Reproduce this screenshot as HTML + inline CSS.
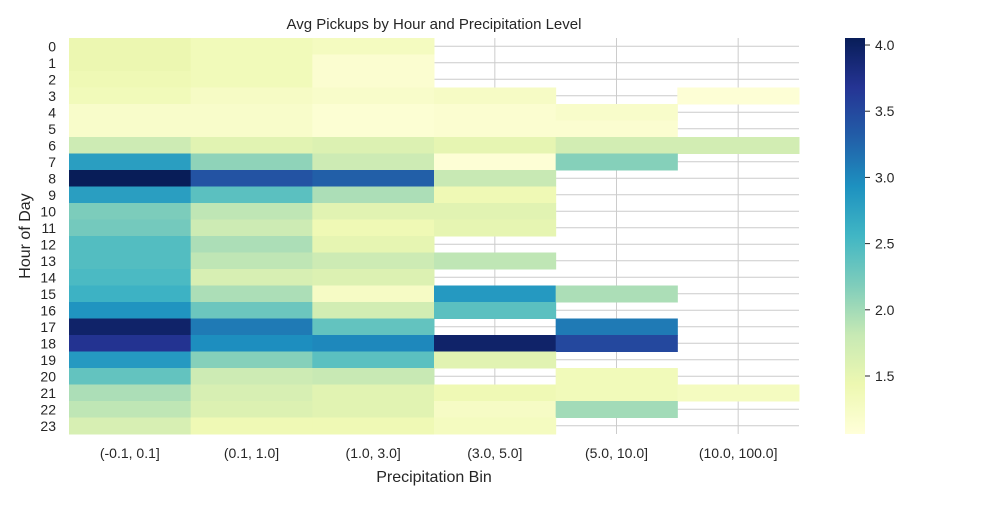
<!DOCTYPE html>
<html><head><meta charset="utf-8"><style>
body{margin:0;background:#fff;}
svg{font-family:"Liberation Sans","DejaVu Sans",sans-serif;}
</style></head><body>
<svg id="chart" width="1000" height="500" xmlns="http://www.w3.org/2000/svg">
<rect width="1000" height="500" fill="#fff"/>
<g id="grid"></g>
<g id="cells"></g>
<g id="axes"></g>
<text x="434" y="29" font-size="15" text-anchor="middle" fill="#262626">Avg Pickups by Hour and Precipitation Level</text>
<text x="434" y="482" font-size="16" text-anchor="middle" fill="#262626">Precipitation Bin</text>
<text x="30" y="236" font-size="16" text-anchor="middle" fill="#262626" transform="rotate(-90 30 236)">Hour of Day</text>
<defs><linearGradient id="cbg" x1="0" y1="1" x2="0" y2="0"></linearGradient></defs>
<rect x="845" y="38" width="20" height="396" fill="url(#cbg)"/>
<g id="cbticks"></g>
</svg>
<script>
const categories=["(-0.1, 0.1]","(0.1, 1.0]","(1.0, 3.0]","(3.0, 5.0]","(5.0, 10.0]","(10.0, 100.0]"];
const hours=[0,1,2,3,4,5,6,7,8,9,10,11,12,13,14,15,16,17,18,19,20,21,22,23];
const N=null;
const values=[
[1.45,1.35,1.3,N,N,N],
[1.45,1.35,1.15,N,N,N],
[1.4,1.35,1.15,N,N,N],
[1.35,1.25,1.2,1.25,N,1.1],
[1.2,1.2,1.12,1.15,1.2,N],
[1.2,1.2,1.12,1.15,1.15,N],
[1.75,1.55,1.6,1.5,1.7,1.7],
[2.8,2.1,1.75,1.1,2.15,N],
[4.05,3.4,3.3,1.8,N,N],
[2.8,2.4,1.95,1.4,N,N],
[2.2,1.85,1.55,1.55,N,N],
[2.25,1.75,1.4,1.5,N,N],
[2.45,1.95,1.5,N,N,N],
[2.45,1.85,1.75,1.85,N,N],
[2.5,1.65,1.6,N,N,N],
[2.6,1.95,1.25,2.85,1.95,N],
[2.9,2.3,1.7,2.4,N,N],
[3.95,3.1,2.35,N,3.1,N],
[3.7,2.95,3.0,3.95,3.5,N],
[2.85,2.15,2.4,1.55,N,N],
[2.35,1.75,1.8,N,1.35,N],
[1.95,1.65,1.55,1.4,1.35,1.3],
[1.85,1.6,1.55,1.25,2.0,N],
[1.65,1.4,1.4,1.3,N,N]];
const cbTicks=[1.5,2.0,2.5,3.0,3.5,4.0];
const vmin=1.062,vmax=4.053;
const stops=["#ffffd9","#edf8b1","#c7e9b4","#7fcdbb","#41b6c4","#1d91c0","#225ea8","#253494","#081d58"];
const X0=69,X1=799,Y0=38,Y1=434;
const cw=(X1-X0)/categories.length, rh=(Y1-Y0)/hours.length;
function xs(i){return X0+i*cw;}
function ys(i){return Y0+i*rh;}
function hex(h){return [1,3,5].map(k=>parseInt(h.substr(k,2),16));}
function cmap(v){let t=Math.max(0,Math.min(1,(v-vmin)/(vmax-vmin)))*(stops.length-1);let i=Math.min(Math.floor(t),stops.length-2),f=t-i;const a=hex(stops[i]),b=hex(stops[i+1]);return "rgb("+a.map((c,k)=>Math.round(c+(b[k]-c)*f)).join(",")+")";}
function cby(v){return Y1-(v-vmin)/(vmax-vmin)*(Y1-Y0);}
const NS="http://www.w3.org/2000/svg";
function mk(tag,attrs,parent){const e=document.createElementNS(NS,tag);for(const k in attrs)e.setAttribute(k,attrs[k]);parent.appendChild(e);return e;}
const grid=document.getElementById('grid'),cells=document.getElementById('cells'),axes=document.getElementById('axes');
categories.forEach((c,i)=>{const l=mk('line',{x1:xs(i)+cw/2,x2:xs(i)+cw/2,y1:Y0,y2:Y1,stroke:"#cccccc","stroke-width":1},grid);


const t=mk('text',{x:xs(i)+cw/2,y:458,"font-size":14,"text-anchor":"middle",fill:"#262626"},axes);t.textContent=c;

});
hours.forEach((h,j)=>{const l=mk('line',{x1:X0,x2:X1,y1:ys(j)+rh/2,y2:ys(j)+rh/2,stroke:"#cccccc","stroke-width":1},grid);


const t=mk('text',{x:56,y:ys(j)+rh/2+5,"font-size":14,"text-anchor":"end",fill:"#262626"},axes);t.textContent=h;


values[j].forEach((v,i)=>{if(v===null)return;const r=mk('rect',{x:xs(i),y:ys(j),width:cw+0.5,height:rh+0.5,fill:cmap(v)},cells);

});});
const g=document.getElementById('cbg');
stops.forEach((s,i)=>mk('stop',{offset:(i/(stops.length-1)),"stop-color":s},g));
const cbt=document.getElementById('cbticks');
cbTicks.forEach(v=>{const y=cby(v);mk('line',{x1:865,x2:870,y1:y,y2:y,stroke:"#262626"},cbt);
const t=mk('text',{x:875,y:y+5,"font-size":14,fill:"#262626"},cbt);t.textContent=v.toFixed(1);

});
</script>
</body></html>
